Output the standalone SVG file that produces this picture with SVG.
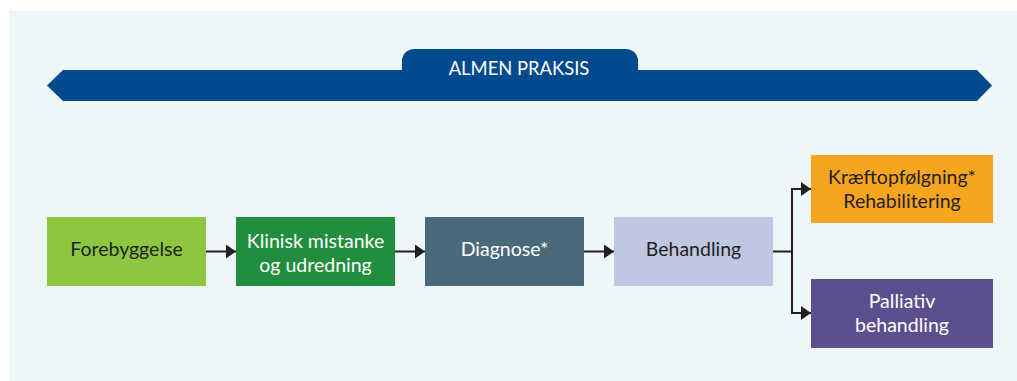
<svg xmlns="http://www.w3.org/2000/svg" width="1017" height="381" viewBox="0 0 1017 381">
  <style>
    .lbl { font-family: "Source Sans Pro", Lato, "Noto Sans", sans-serif; font-size: 19.5px; text-anchor: middle; }
    .dark { fill: #231f20; }
    .light { fill: #ffffff; }
    .conn { fill: none; stroke: #231f20; stroke-width: 2; }
  </style>
  <defs>
    <marker id="arrow" viewBox="0 0 10 14" refX="10" refY="7" markerWidth="10" markerHeight="14" markerUnits="userSpaceOnUse" orient="auto">
      <path d="M0,0 L10,7 L0,14 Z" fill="#231f20"/>
    </marker>
  </defs>

  <!-- panel -->
  <rect x="9" y="11" width="1008" height="370" fill="#edf6f9"/>

  <!-- general practice banner -->
  <g id="almen-praksis">
    <path d="M414,49 H626 A12,12 0 0 1 638,61 V70 H977 L992,85.5 L977,101 H63 L47,85.5 L63,70 H402 V61 A12,12 0 0 1 414,49 Z" fill="#004a8d"/>
    <text class="lbl light" x="519" y="75" style="font-size:18.4px">ALMEN PRAKSIS</text>
  </g>

  <g id="forebyggelse">
    <rect x="47" y="217" width="159" height="69" fill="#8dc63f"/>
    <text class="lbl dark" x="126.5" y="256">Forebyggelse</text>
  </g>

  <g id="klinisk-mistanke">
    <rect x="236" y="217" width="159" height="69" fill="#218e3e"/>
    <text class="lbl light" x="315.5" y="248">Klinisk mistanke</text>
    <text class="lbl light" x="315.5" y="272">og udredning</text>
  </g>

  <g id="diagnose">
    <rect x="425" y="217" width="159" height="69" fill="#486a7b"/>
    <text class="lbl light" x="504.5" y="256">Diagnose*</text>
  </g>

  <g id="behandling">
    <rect x="614" y="217" width="159" height="69" fill="#c0c7e2"/>
    <text class="lbl dark" x="693.5" y="256">Behandling</text>
  </g>

  <g id="kraeftopfoelgning">
    <rect x="811" y="155" width="182" height="68" fill="#f7a51e"/>
    <text class="lbl dark" x="902" y="184">Kræftopfølgning*</text>
    <text class="lbl dark" x="902" y="208">Rehabilitering</text>
  </g>

  <g id="palliativ">
    <rect x="811" y="279" width="182" height="69" fill="#5c4f8d"/>
    <text class="lbl light" x="902" y="308">Palliativ</text>
    <text class="lbl light" x="902" y="332">behandling</text>
  </g>

  <g id="connectors">
    <line class="conn" x1="206" y1="251.5" x2="236" y2="251.5" marker-end="url(#arrow)"/>
    <line class="conn" x1="395" y1="251.5" x2="425" y2="251.5" marker-end="url(#arrow)"/>
    <line class="conn" x1="584" y1="251.5" x2="614" y2="251.5" marker-end="url(#arrow)"/>
    <!-- branch after treatment -->
    <line class="conn" x1="773" y1="251.5" x2="792" y2="251.5"/>
    <line class="conn" x1="792" y1="188" x2="792" y2="314"/>
    <line class="conn" x1="791" y1="189" x2="811" y2="189" marker-end="url(#arrow)"/>
    <line class="conn" x1="791" y1="313" x2="811" y2="313" marker-end="url(#arrow)"/>
  </g>
</svg>
